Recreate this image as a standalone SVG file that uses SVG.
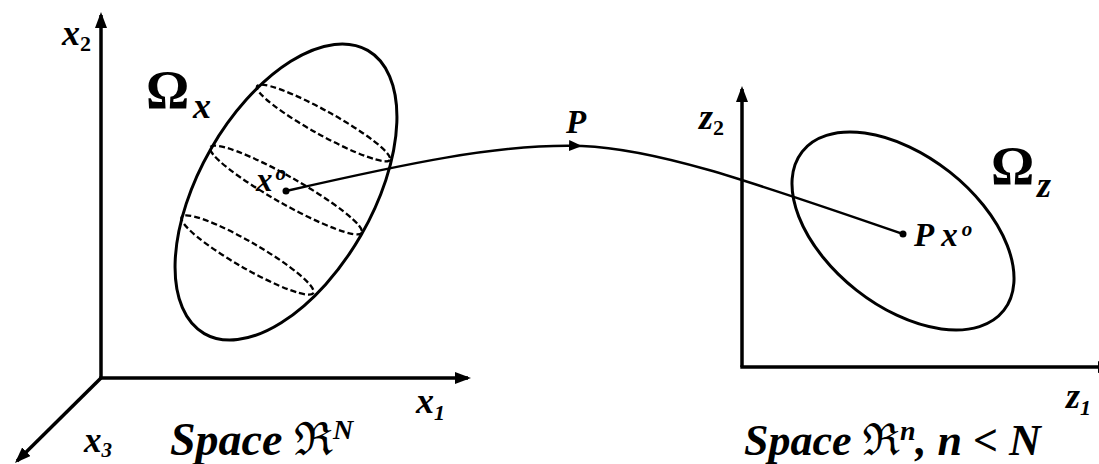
<svg xmlns="http://www.w3.org/2000/svg" width="1099" height="464" viewBox="0 0 1099 464">
<style>
.ax{fill:none;stroke:#000;stroke-width:3.5}
.el{fill:none;stroke:#000;stroke-width:3}
.da{fill:none;stroke:#000;stroke-width:2.3;stroke-dasharray:6 3}
.cv{fill:none;stroke:#000;stroke-width:2.5}
.t{font-family:"Liberation Serif","Times New Roman",serif;font-weight:bold;font-style:italic;fill:#000}
.om{font-family:"Liberation Serif","Times New Roman",serif;font-weight:bold;font-size:54px;fill:#000}
.sub{font-style:normal}
.fr{font-family:"DejaVu Serif","Noto Sans",serif;font-style:normal}
</style>
<defs>
<marker id="arr" markerWidth="16" markerHeight="12" refX="13" refY="6" orient="auto" markerUnits="userSpaceOnUse"><path d="M0,0 L16,6 L0,12 z" fill="#000"/></marker>
<marker id="arr2" markerWidth="13" markerHeight="11" refX="13" refY="5.5" orient="auto" markerUnits="userSpaceOnUse"><path d="M0,0 L13,5.5 L0,11 z" fill="#000"/></marker>
</defs>
<g id="axes-left">
<path class="ax" d="M101,378 L101,15" marker-end="url(#arr)"/>
<path class="ax" d="M99.3,378 L468,378" marker-end="url(#arr)"/>
<path class="ax" d="M101,378 L17.1,460.9" marker-end="url(#arr)"/>
<text class="t" x="62" y="45" font-size="36">x<tspan class="sub" font-size="22" dy="6">2</tspan></text>
<text class="t" x="416" y="413" font-size="36">x<tspan font-size="22" dy="7">1</tspan></text>
<text class="t" x="84" y="452" font-size="35">x<tspan font-size="21" dy="5">3</tspan></text>
<text class="t" x="170" y="455" font-size="46">Space <tspan class="fr">ℜ</tspan><tspan font-size="28" dy="-16">N</tspan></text>
</g>
<g id="omega-x">
<ellipse class="el" cx="0" cy="0" rx="163.5" ry="86.6" transform="translate(286 192) rotate(-60)"/>
<ellipse class="da" cx="0" cy="0" rx="76" ry="12" transform="translate(323.5 123) rotate(29)"/>
<ellipse class="da" cx="0" cy="0" rx="87" ry="13.5" transform="translate(286 190) rotate(29.5)"/>
<ellipse class="da" cx="0" cy="0" rx="76" ry="13" transform="translate(247.5 255) rotate(30)"/>
<text class="om" x="146" y="108">Ω</text>
<text class="t" x="193" y="118" font-size="36">x</text>
</g>
<g id="point-x0">
<circle cx="286" cy="191" r="3.5" fill="#000"/>
<text class="t" x="256" y="191" font-size="33">x<tspan font-size="21" dx="3" dy="-11">o</tspan></text>
</g>
<g id="axes-right">
<path class="ax" d="M742,367 L742,89" marker-end="url(#arr)"/>
<path class="ax" d="M740.3,367 L1111,367" marker-end="url(#arr)"/>
<text class="t" x="699" y="129" font-size="36">z<tspan class="sub" font-size="22" dy="6">2</tspan></text>
<text class="t" x="1066" y="408" font-size="36">z<tspan font-size="22" dy="7">1</tspan></text>
<text class="t" x="744" y="455" font-size="44">Space <tspan class="fr">ℜ</tspan><tspan font-size="28" dy="-15">n</tspan><tspan dy="15">, n &lt; N</tspan></text>
</g>
<g id="omega-z">
<ellipse class="el" cx="0" cy="0" rx="128.3" ry="75.3" transform="translate(903 231) rotate(38.25)"/>
<text class="om" x="991" y="184">Ω</text>
<text class="t" x="1037" y="197" font-size="36">z</text>
</g>
<g id="point-px0">
<circle cx="903" cy="234" r="3.5" fill="#000"/>
<text class="t" x="914" y="246" font-size="33">P x<tspan font-size="21" dx="4" dy="-10">o</tspan></text>
</g>
<g id="connectors">
<path class="cv" d="M286,191 C400,165 500,143 582,146 C660,149 760,185 903,234" marker-mid="url(#arr2)"/>
<text class="t" x="566" y="133" font-size="33">P</text>
</g>
</svg>
